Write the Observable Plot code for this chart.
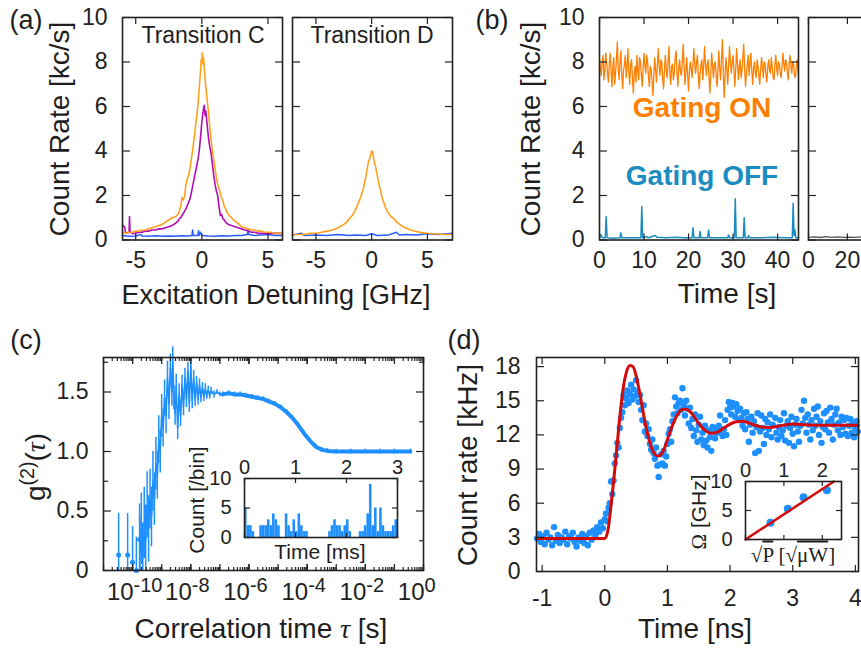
<!DOCTYPE html>
<html><head><meta charset="utf-8">
<script src="https://cdn.jsdelivr.net/npm/d3@7"></script>
<script src="https://cdn.jsdelivr.net/npm/@observablehq/plot@0.6"></script>
<style>
html,body{margin:0;padding:0;background:#fff;overflow:hidden;}
#fig{position:relative;width:861px;height:651px;overflow:hidden;font-family:"Liberation Sans",Arial,sans-serif;color:#1e1e1e;}
#fig svg{position:absolute;overflow:visible;}
.lbl{position:absolute;white-space:nowrap;line-height:1;transform:translate(-50%,-50%);}
.rot{transform:translate(-50%,-50%) rotate(-90deg);}
.ser{font-family:"Liberation Serif","DejaVu Serif",serif;}
</style></head><body><div id="fig"></div>
<script>
// ---------------- DATA ----------------
// (a) Transition C : [detuning GHz, count rate kc/s]
const aOrangeC = [[-6,0.35],[-5.75,0.3],[-5.5,0.35],[-5.25,0.35],[-5,0.4],[-4.75,0.4],[-4.5,0.45],[-4.25,0.45],[-4,0.5],[-3.75,0.55],[-3.5,0.6],[-3.25,0.65],[-3,0.7],[-2.75,0.8],[-2.5,0.9],[-2.25,1.0],[-2,1.05],[-1.9,1.1],[-1.8,1.15],[-1.7,1.3],[-1.6,1.5],[-1.5,1.9],[-1.4,1.8],[-1.3,2.0],[-1.2,2.5],[-1.1,2.75],[-1.0,2.9],[-0.9,3.2],[-0.8,3.6],[-0.7,4.0],[-0.6,4.5],[-0.5,5.0],[-0.4,5.5],[-0.3,6.0],[-0.2,6.8],[-0.1,7.6],[-0.05,8.1],[0,8.0],[0.03,8.4],[0.08,7.9],[0.13,8.2],[0.2,7.6],[0.3,6.9],[0.4,6.3],[0.5,5.8],[0.6,5.1],[0.7,4.5],[0.8,4.0],[0.9,3.6],[1.0,3.2],[1.1,2.8],[1.2,2.5],[1.3,2.3],[1.4,2.1],[1.5,1.9],[1.6,1.75],[1.7,1.5],[1.8,1.4],[1.9,1.25],[2,1.15],[2.25,1.0],[2.5,0.85],[2.75,0.75],[3,0.6],[3.25,0.55],[3.5,0.5],[3.75,0.45],[4,0.45],[4.25,0.4],[4.5,0.4],[4.75,0.35],[5,0.35],[5.25,0.35],[5.5,0.3],[5.75,0.3],[6.1,0.3]];
const aPurpleC = [[-6,0.65],[-5.85,0.6],[-5.75,0.3],[-5.5,0.35],[-5.47,1.05],[-5.43,0.35],[-5.25,0.3],[-5,0.3],[-4.75,0.35],[-4.5,0.35],[-4.25,0.4],[-4,0.4],[-3.75,0.45],[-3.5,0.45],[-3.25,0.5],[-3,0.5],[-2.75,0.55],[-2.5,0.6],[-2.25,0.65],[-2,0.75],[-1.9,0.8],[-1.8,0.85],[-1.7,0.95],[-1.6,1.0],[-1.5,1.1],[-1.4,1.2],[-1.3,1.3],[-1.2,1.4],[-1.1,1.55],[-1.0,1.7],[-0.9,1.85],[-0.8,2.1],[-0.7,2.4],[-0.6,2.7],[-0.5,3.0],[-0.4,3.3],[-0.3,3.6],[-0.2,4.0],[-0.1,4.6],[0,5.3],[0.1,5.8],[0.18,6.05],[0.25,5.6],[0.3,5.8],[0.4,5.2],[0.5,4.6],[0.6,4.2],[0.7,3.9],[0.8,3.4],[0.9,2.9],[1.0,2.5],[1.1,2.2],[1.2,2.0],[1.3,1.5],[1.4,1.1],[1.5,1.15],[1.6,0.95],[1.7,0.9],[1.8,0.8],[1.9,0.75],[2,0.7],[2.25,0.65],[2.5,0.6],[2.75,0.55],[3,0.5],[3.25,0.45],[3.5,0.4],[3.75,0.35],[4,0.35],[4.25,0.3],[4.5,0.3],[5,0.3],[5.5,0.3],[6.1,0.3]];
const aBlueC = [[-6,0.2],[-5.5,0.17],[-5,0.18],[-4.6,0.25],[-4.5,0.18],[-4,0.17],[-3.5,0.19],[-3,0.17],[-2.5,0.18],[-2,0.17],[-1.5,0.19],[-1,0.18],[-0.75,0.2],[-0.7,0.45],[-0.65,0.2],[-0.3,0.2],[-0.25,0.42],[-0.2,0.2],[-0.1,0.35],[0,0.2],[0.5,0.18],[1,0.17],[1.5,0.19],[2,0.18],[2.5,0.2],[3,0.2],[3.45,0.25],[3.5,0.5],[3.55,0.25],[4,0.2],[4.5,0.22],[5,0.25],[5.5,0.2],[6.1,0.2]];
// (a) Transition D
const aOrangeD = [[-7.1,0.25],[-6.5,0.25],[-6,0.25],[-5.5,0.3],[-5,0.3],[-4.5,0.35],[-4,0.4],[-3.5,0.45],[-3,0.55],[-2.5,0.7],[-2.25,0.8],[-2,0.95],[-1.75,1.1],[-1.5,1.3],[-1.25,1.6],[-1,1.9],[-0.75,2.3],[-0.5,2.9],[-0.3,3.5],[-0.15,3.7],[0,4.0],[0.1,3.95],[0.2,3.6],[0.35,3.3],[0.5,2.9],[0.75,2.3],[1,1.8],[1.25,1.45],[1.5,1.2],[1.75,1.05],[2,0.95],[2.25,0.8],[2.5,0.7],[3,0.55],[3.5,0.45],[4,0.38],[4.5,0.33],[5,0.3],[5.5,0.28],[6,0.27],[6.5,0.25],[7.25,0.25]];
const aBlueD = [[-7.1,0.22],[-6.3,0.3],[-6,0.2],[-5,0.22],[-4,0.2],[-3,0.25],[-2,0.2],[-1.5,0.22],[-0.5,0.2],[0,0.28],[0.5,0.2],[1.5,0.22],[2.2,0.35],[2.5,0.22],[3,0.25],[4,0.22],[5,0.28],[6,0.25],[7.25,0.3]];

// (b) [time s, count rate kc/s]
const bGatingOn = [[0,8.1],[0.2,7.7],[0.4,7.4],[0.6,8.0],[0.8,8.3],[1.0,7.2],[1.2,7.6],[1.4,8.4],[1.6,8.0],[1.8,7.5],[2.0,7.1],[2.2,7.9],[2.4,8.4],[2.6,7.6],[2.8,6.9],[3.0,7.8],[3.2,8.2],[3.4,7.0],[3.6,7.5],[3.8,8.1],[4.0,8.9],[4.2,7.7],[4.4,7.2],[4.6,8.0],[4.8,8.5],[5.0,7.4],[5.2,6.8],[5.4,7.6],[5.6,7.9],[5.8,8.3],[6.0,7.3],[6.2,7.8],[6.4,8.6],[6.6,7.5],[6.8,7.0],[7.0,7.9],[7.2,8.1],[7.4,7.3],[7.6,6.6],[7.8,7.5],[8.0,7.8],[8.2,7.1],[8.4,8.3],[8.6,7.6],[8.8,7.2],[9.0,8.2],[9.2,8.0],[9.4,7.4],[9.6,6.9],[9.8,7.7],[10.0,8.4],[10.2,7.8],[10.4,7.5],[10.6,8.3],[10.8,8.0],[11.0,7.3],[11.2,6.9],[11.4,7.8],[11.6,7.7],[11.8,7.1],[12.0,6.5],[12.2,7.4],[12.4,8.2],[12.6,7.6],[12.8,7.1],[13.0,7.9],[13.2,8.6],[13.4,7.8],[13.6,7.4],[13.8,8.1],[14.0,8.0],[14.2,7.2],[14.4,6.8],[14.6,7.7],[14.8,8.3],[15.0,7.6],[15.2,7.3],[15.4,8.0],[15.6,8.7],[15.8,7.5],[16.0,7.0],[16.2,7.8],[16.4,7.9],[16.6,7.2],[16.8,7.5],[17.0,8.2],[17.2,8.5],[17.4,7.6],[17.6,6.9],[17.8,7.7],[18.0,8.1],[18.2,7.5],[18.4,7.4],[18.6,8.0],[18.8,8.8],[19.0,7.8],[19.2,7.0],[19.4,7.6],[19.6,8.2],[19.8,7.4],[20.0,6.7],[20.2,7.6],[20.4,8.0],[20.6,7.7],[20.8,7.3],[21.0,7.9],[21.2,8.6],[21.4,7.9],[21.6,7.5],[21.8,8.0],[22.0,8.3],[22.2,7.4],[22.4,6.8],[22.6,7.5],[22.8,7.9],[23.0,8.1],[23.2,7.2],[23.4,7.8],[23.6,8.7],[23.8,7.9],[24.0,7.4],[24.2,7.9],[24.4,8.1],[24.6,7.3],[24.8,6.6],[25.0,7.5],[25.2,8.4],[25.4,7.8],[25.6,7.3],[25.8,7.9],[26.0,8.0],[26.2,7.4],[26.4,6.9],[26.6,7.6],[26.8,8.5],[27.0,7.7],[27.2,7.2],[27.4,8.1],[27.6,9.0],[27.8,7.6],[28.0,6.4],[28.2,7.3],[28.4,8.2],[28.6,7.7],[28.8,7.0],[29.0,7.8],[29.2,8.7],[29.4,8.0],[29.6,7.5],[29.8,8.0],[30.0,8.3],[30.2,7.6],[30.4,6.9],[30.6,7.7],[30.8,8.6],[31.0,7.9],[31.2,7.2],[31.4,7.8],[31.6,8.1],[31.8,7.3],[32.0,7.6],[32.2,8.2],[32.4,8.8],[32.6,7.7],[32.8,6.9],[33.0,7.5],[33.2,7.9],[33.4,8.3],[33.6,7.4],[33.8,7.9],[34.0,8.4],[34.2,7.6],[34.4,7.0],[34.6,7.7],[34.8,8.0],[35.0,7.5],[35.2,7.3],[35.4,8.1],[35.6,7.8],[35.8,7.4],[36.0,7.0],[36.2,7.7],[36.4,8.2],[36.6,7.8],[36.8,7.3],[37.0,8.0],[37.2,7.9],[37.4,7.4],[37.6,7.1],[37.8,7.8],[38.0,8.1],[38.2,7.6],[38.4,7.5],[38.6,8.2],[38.8,7.8],[39.0,7.3],[39.2,7.2],[39.4,7.9],[39.6,8.3],[39.8,7.7],[40.0,7.4],[40.2,8.0],[40.4,7.9],[40.6,7.5],[40.8,7.3],[41.0,7.8],[41.2,8.4],[41.4,7.9],[41.6,7.6],[41.8,8.1],[42.0,8.0],[42.2,7.5],[42.4,7.2],[42.6,7.9],[42.8,8.3],[43.0,7.8],[43.2,7.5],[43.4,8.0],[43.6,7.9],[43.8,7.4],[44.0,7.3],[44.2,7.8],[44.4,8.1],[44.6,7.6],[44.7,7.4]];
const bGatingOff = [[0,0.1],[0.3,0.25],[0.6,0.1],[1.3,0.1],[1.5,1.05],[1.7,0.1],[3,0.08],[4.6,0.1],[4.8,0.32],[5.0,0.1],[7,0.1],[9.3,0.1],[9.5,1.5],[9.7,0.1],[10.5,0.15],[11,0.1],[12.5,0.2],[13,0.12],[15,0.1],[17,0.12],[19,0.1],[20.8,0.1],[21,0.55],[21.2,0.1],[22.4,0.1],[22.6,0.38],[22.8,0.1],[24.3,0.1],[24.5,0.45],[24.7,0.1],[27,0.1],[28.8,0.1],[29,0.22],[29.2,0.1],[30.3,0.1],[30.5,1.85],[30.7,0.1],[32.3,0.1],[32.5,1.0],[32.7,0.1],[33.3,0.1],[33.5,0.2],[33.7,0.1],[36,0.1],[39,0.12],[42,0.1],[43.3,0.1],[43.5,1.65],[43.7,0.2],[43.9,0.45],[44.1,0.1],[44.7,0.1]];
const bDark = [[0,0.12],[3,0.14],[6,0.11],[9,0.15],[12,0.12],[15,0.14],[18,0.12],[21,0.13],[24,0.12],[27,0.14],[30,0.12],[36,0.12]];

// (c) g2: log10(tau), g2, error
const cSparseLogTau = [-10.48,-10.17,-10.0,-9.87,-9.76];
const cSparseG2 = [0.13,0.13,0.07,0.0,0.26];
const cSparseErr = [0.35,0.35,0.3,0.28,0.3];
const cLogTau = [-9.75,-9.7,-9.65,-9.6,-9.55,-9.5,-9.45,-9.4,-9.35,-9.3,-9.25,-9.2,-9.15,-9.1,-9.05,-9.0,-8.95,-8.9,-8.85,-8.8,-8.75,-8.7,-8.65,-8.62,-8.58,-8.54,-8.5,-8.45,-8.4,-8.35,-8.3,-8.25,-8.2,-8.15,-8.1,-8.05,-8.0,-7.95,-7.9,-7.85,-7.8,-7.75,-7.7,-7.65,-7.6,-7.55,-7.5,-7.45,-7.4,-7.35,-7.3,-7.2,-7.1,-7.0,-6.9,-6.7,-6.5,-6.3,-6.1,-5.9,-5.7,-5.5,-5.3,-5.1,-4.9,-4.7,-4.5,-4.3,-4.1,-3.9,-3.7,-3.5,-3.3,-3.0,-2.5,-2.0,-1.5,-1.0,-0.45];
const cG2 = [0.15,0.35,0.1,0.4,0.25,0.55,0.35,0.6,0.45,0.75,0.6,0.9,0.8,1.1,1.0,1.3,1.2,1.45,1.3,1.62,1.4,1.7,1.5,1.78,1.45,1.32,1.55,1.2,1.48,1.3,1.56,1.38,1.62,1.44,1.68,1.4,1.72,1.42,1.62,1.43,1.58,1.44,1.56,1.45,1.54,1.46,1.53,1.47,1.52,1.47,1.51,1.48,1.5,1.48,1.48,1.49,1.48,1.48,1.47,1.46,1.45,1.44,1.42,1.4,1.37,1.33,1.28,1.22,1.15,1.09,1.04,1.015,1.005,1.0,1.0,1.0,1.0,1.0,1.0];
const cErr = [0.3,0.3,0.3,0.3,0.3,0.28,0.28,0.25,0.25,0.25,0.22,0.22,0.2,0.2,0.18,0.18,0.16,0.15,0.15,0.14,0.13,0.12,0.12,0.1,0.1,0.1,0.1,0.1,0.09,0.09,0.08,0.08,0.08,0.07,0.07,0.07,0.06,0.06,0.06,0.05,0.05,0.05,0.05,0.04,0.04,0.04,0.04,0.03,0.03,0.03,0.03,0.03,0.02,0.02,0.02,0.02,0.02,0.02,0.02,0.02,0.02,0.02,0.02,0.02,0.02,0.02,0.02,0.02,0.02,0.02,0.02,0.02,0.02,0.02,0.02,0.02,0.02,0.02,0.02];
// (c) inset histogram: bin start [ms], counts per bin
const cBinStart = [0,0.05,0.1,0.15,0.2,0.25,0.3,0.35,0.4,0.45,0.5,0.55,0.6,0.65,0.7,0.75,0.8,0.85,0.9,0.95,1.0,1.05,1.1,1.15,1.2,1.25,1.3,1.35,1.4,1.45,1.5,1.55,1.6,1.65,1.7,1.75,1.8,1.85,1.9,1.95,2.0,2.05,2.1,2.15,2.2,2.25,2.3,2.35,2.4,2.45,2.5,2.55,2.6,2.65,2.7,2.75,2.8,2.85,2.9,2.95];
const cBinCount = [5,2,2,1,0,0,2,2,2,3,2,4,3,2,0,0,4,2,1,3,1,4,2,1,1,0,0,0,0,0,0,0,0,1,2,3,2,2,1,2,3,1,0,0,0,1,1,2,4,9,2,5,1,5,2,1,1,1,2,3];

// (d) [time ns, count rate kHz]
const dMeasured = [[-1.08,2.9],[-1.05,3.3],[-1.02,2.6],[-0.99,3.1],[-0.96,2.4],[-0.93,3.4],[-0.9,2.8],[-0.87,3.0],[-0.84,2.3],[-0.81,3.9],[-0.78,2.7],[-0.75,3.2],[-0.72,2.5],[-0.69,3.0],[-0.66,2.8],[-0.63,3.5],[-0.6,2.4],[-0.57,3.1],[-0.54,2.9],[-0.51,3.4],[-0.48,2.6],[-0.45,2.2],[-0.42,3.0],[-0.39,2.7],[-0.36,3.3],[-0.33,2.5],[-0.3,3.1],[-0.27,2.3],[-0.24,3.4],[-0.21,2.8],[-0.18,3.6],[-0.15,3.2],[-0.12,3.9],[-0.09,3.5],[-0.06,4.3],[-0.03,3.8],[0.0,4.6],[0.02,5.1],[0.04,4.4],[0.06,5.6],[0.08,6.0],[0.1,7.9],[0.12,6.8],[0.14,8.0],[0.16,9.5],[0.18,10.2],[0.2,11.3],[0.22,10.9],[0.24,12.6],[0.26,13.5],[0.28,14.0],[0.3,15.5],[0.32,14.6],[0.34,15.2],[0.36,15.9],[0.38,14.8],[0.4,15.6],[0.42,16.4],[0.44,15.1],[0.46,16.0],[0.48,15.4],[0.5,16.8],[0.52,15.8],[0.54,14.9],[0.56,15.5],[0.58,14.2],[0.6,13.3],[0.62,14.6],[0.64,12.3],[0.66,13.0],[0.68,11.9],[0.7,12.5],[0.72,11.2],[0.74,10.7],[0.76,11.6],[0.78,10.4],[0.8,9.9],[0.82,10.9],[0.84,9.3],[0.86,8.3],[0.88,9.4],[0.9,10.3],[0.92,9.5],[0.94,10.6],[0.96,9.3],[0.98,10.1],[1.0,11.2],[1.02,12.1],[1.04,12.5],[1.06,11.4],[1.08,13.2],[1.1,13.8],[1.12,15.3],[1.14,14.5],[1.16,13.9],[1.18,14.8],[1.2,15.0],[1.22,14.2],[1.24,16.1],[1.26,14.6],[1.28,13.7],[1.3,15.0],[1.32,14.3],[1.34,13.0],[1.36,14.4],[1.38,12.6],[1.4,13.4],[1.42,11.9],[1.44,13.8],[1.46,12.4],[1.48,11.4],[1.5,12.9],[1.52,13.6],[1.54,11.6],[1.56,12.2],[1.58,11.1],[1.6,12.8],[1.62,11.5],[1.64,10.9],[1.66,12.4],[1.68,11.8],[1.7,10.6],[1.72,12.7],[1.74,12.3],[1.76,11.7],[1.78,12.6],[1.8,12.2],[1.82,12.8],[1.84,13.7],[1.86,12.4],[1.88,11.9],[1.9,12.5],[1.92,13.3],[1.94,12.0],[1.96,14.2],[1.98,14.9],[2.0,14.4],[2.02,13.8],[2.04,14.8],[2.06,14.5],[2.08,13.6],[2.1,14.7],[2.12,14.1],[2.14,13.3],[2.16,14.3],[2.18,13.5],[2.2,12.8],[2.22,13.9],[2.24,12.5],[2.26,14.0],[2.28,13.4],[2.3,11.4],[2.32,12.9],[2.34,13.6],[2.36,12.2],[2.38,13.2],[2.4,10.4],[2.42,12.7],[2.44,13.9],[2.46,10.6],[2.48,12.3],[2.5,13.7],[2.52,12.6],[2.54,11.2],[2.56,13.4],[2.58,12.0],[2.6,13.1],[2.62,12.5],[2.64,13.8],[2.66,11.8],[2.68,12.9],[2.72,13.5],[2.74,12.2],[2.76,11.6],[2.78,12.7],[2.8,13.3],[2.82,11.9],[2.84,12.4],[2.86,13.9],[2.88,11.5],[2.9,12.8],[2.92,13.2],[2.94,11.3],[2.96,12.6],[2.98,13.6],[3.0,12.1],[3.02,11.0],[3.04,12.9],[3.06,13.4],[3.08,12.3],[3.1,11.4],[3.12,12.8],[3.14,14.2],[3.16,13.0],[3.18,15.0],[3.2,13.5],[3.22,12.2],[3.24,13.8],[3.26,12.9],[3.28,11.6],[3.3,13.3],[3.32,12.4],[3.34,14.3],[3.36,12.8],[3.38,13.6],[3.4,14.5],[3.42,12.0],[3.44,13.2],[3.46,11.3],[3.48,12.7],[3.5,13.9],[3.52,12.5],[3.54,14.1],[3.56,13.1],[3.58,12.2],[3.6,14.4],[3.62,13.4],[3.64,11.6],[3.66,12.9],[3.68,13.8],[3.7,14.3],[3.72,12.4],[3.74,13.1],[3.76,12.0],[3.78,13.6],[3.8,12.7],[3.82,13.3],[3.84,12.1],[3.86,13.5],[3.88,11.9],[3.9,12.8],[3.92,13.4],[3.94,12.2],[3.96,13.0],[3.98,11.8],[4.0,12.6],[4.02,13.2],[4.04,12.3]];
const dFit = [[-1.09,2.9],[-0.5,2.9],[0.0,2.9],[0.05,3.6],[0.1,5.8],[0.15,8.4],[0.2,11.3],[0.25,14.1],[0.3,16.3],[0.35,17.6],[0.4,18.1],[0.45,18.0],[0.5,17.2],[0.55,15.9],[0.6,14.4],[0.65,12.9],[0.7,11.7],[0.75,10.8],[0.8,10.3],[0.85,10.15],[0.9,10.3],[0.95,10.8],[1.0,11.6],[1.05,12.4],[1.1,13.1],[1.15,13.7],[1.2,14.1],[1.25,14.25],[1.3,14.25],[1.35,14.1],[1.4,13.8],[1.5,13.0],[1.6,12.4],[1.7,12.15],[1.8,12.25],[1.9,12.6],[2.0,12.95],[2.1,13.15],[2.2,13.2],[2.3,13.05],[2.4,12.85],[2.5,12.7],[2.6,12.65],[2.7,12.7],[2.8,12.8],[2.9,12.9],[3.0,12.95],[3.2,12.9],[3.4,12.85],[3.7,12.85],[4.05,12.85]];
// (d) inset: sqrt(P) [sqrt(uW)], Omega [GHz]
const dInsetSqrtP = [0.65,1.1,1.51,2.12];
const dInsetOmega = [2.9,5.3,7.3,8.5];
const dInsetFit = [[0,0],[2.3,10]];

// tick values and labels
const aYTicks = [0,2,4,6,8,10], aYLabels = ["0","2","4","6","8","10"];
const aXTicks = [-5,0,5], aXLabels = ["-5","0","5"];
const bXTicks = [0,10,20,30,40], bXLabels = ["0","10","20","30","40"];
const b2XTicks = [0,20], b2XLabels = ["0","20"];
const cXTicks = [1e-10,1e-8,1e-6,1e-4,1e-2,1], cXBase = ["10","10","10","10","10","10"], cXExp = ["-10","-8","-6","-4","-2","0"];
const cDecades = [1e-11,1e-10,1e-9,1e-8,1e-7,1e-6,1e-5,1e-4,1e-3,1e-2,1e-1,1];
const cYTicks = [0,0.5,1,1.5], cYLabels = ["0","0.5","1.0","1.5"];
const cYMinor = [0.25,0.75,1.25,1.75];
const ciXTicks = [0,1,2,3], ciXLabels = ["0","1","2","3"];
const ciYTicks = [0,5,10], ciYLabels = ["0","5","10"];
const dXTicks = [-1,0,1,2,3,4], dXLabels = ["-1","0","1","2","3","4"];
const dYTicks = [0,3,6,9,12,15,18], dYLabels = ["0","3","6","9","12","15","18"];
const diXTicks = [0,1,2], diXLabels = ["0","1","2"];
const diYTicks = [0,5,10], diYLabels = ["0","5","10"];

// ---------------- DRAWING ----------------
const fig = document.getElementById("fig");
const INK = "#222";
const fmt = (ticks, labels) => d => labels[ticks.indexOf(d)];

function panel(c) {
  const {x0, y0, x1, y1, ml = 70, mr = 20, mt = 30, mb = 45, fs = 23,
    xt, xl, yt, yl, xMinor, yMinor, xTop = false, showY = true, showX = true,
    tick = 7, minor = 4, xPad = 12, yPad = 15} = c;
  const w = x1 - x0, h = y1 - y0;
  const m = [...c.marks];
  const tk = {stroke: INK, strokeWidth: 1.2, fill: "none"};
  const addX = (t, s) => {
    m.push(Plot.axisX({ticks: t, anchor: "top", tickSize: s, dy: h, ...tk}));
    m.push(Plot.axisX({ticks: t, anchor: "bottom", tickSize: s, dy: -h, ...tk}));
  };
  const addY = (t, s) => {
    m.push(Plot.axisY({ticks: t, anchor: "right", tickSize: s, dx: -w, ...tk}));
    m.push(Plot.axisY({ticks: t, anchor: "left", tickSize: s, dx: w, ...tk}));
  };
  addX(xt, tick); addY(yt, tick);
  if (xMinor) addX(xMinor, minor);
  if (yMinor) addY(yMinor, minor);
  if (showX) m.push(Plot.axisX({ticks: xt, anchor: xTop ? "top" : "bottom", tickSize: 0, tickPadding: xPad, tickFormat: fmt(xt, xl), label: null, fill: INK, stroke: "none"}));
  if (showY) m.push(Plot.axisY({ticks: yt, anchor: "left", tickSize: 0, tickPadding: yPad, tickFormat: fmt(yt, yl), label: null, fill: INK, stroke: "none"}));
  m.push(Plot.frame({stroke: INK, strokeWidth: 1.6}));
  const svg = Plot.plot({
    width: w + ml + mr, height: h + mt + mb,
    marginLeft: ml, marginRight: mr, marginTop: mt, marginBottom: mb,
    x: {...c.x, axis: null}, y: {...c.y, axis: null},
    style: {fontSize: fs + "px", fontFamily: "'Liberation Sans', Arial, sans-serif", background: "transparent", overflow: "visible", color: INK},
    marks: m
  });
  svg.style.left = (x0 - ml) + "px";
  svg.style.top = (y0 - mt) + "px";
  fig.appendChild(svg);
}

function label(html, cx, cy, o = {}) {
  const d = document.createElement("div");
  d.className = "lbl" + (o.rot ? " rot" : "") + (o.serif ? " ser" : "");
  d.innerHTML = html;
  d.style.left = cx + "px"; d.style.top = cy + "px";
  d.style.fontSize = (o.size || 28) + "px";
  if (o.weight) d.style.fontWeight = o.weight;
  if (o.color) d.style.color = o.color;
  fig.appendChild(d);
}

const X = d => d[0], Y = d => d[1];
const ORA = "#ffa01e", PUR = "#b20db2", BLU = "#2a5cff";
const ORB = "#ff7f00", TEAL = "#1a8cbf";
const DOD = "#1e8fff", RED = "#d40a0a";

// (a) left
panel({x0: 122, y0: 17, x1: 282, y1: 239.5, x: {domain: [-6, 6.1]}, y: {domain: [0, 10]},
  xt: aXTicks, xl: aXLabels, yt: aYTicks, yl: aYLabels,
  marks: [
    Plot.line(aBlueC, {x: X, y: Y, stroke: BLU, strokeWidth: 1.5}),
    Plot.line(aPurpleC, {x: X, y: Y, stroke: PUR, strokeWidth: 1.6}),
    Plot.line(aOrangeC, {x: X, y: Y, stroke: ORA, strokeWidth: 1.6})
  ]});
// (a) right
panel({x0: 292, y0: 17, x1: 452, y1: 239.5, x: {domain: [-7.1, 7.25]}, y: {domain: [0, 10]},
  xt: aXTicks, xl: aXLabels, yt: aYTicks, yl: aYLabels, showY: false,
  marks: [
    Plot.line(aBlueD, {x: X, y: Y, stroke: BLU, strokeWidth: 1.5}),
    Plot.line(aOrangeD, {x: X, y: Y, stroke: ORA, strokeWidth: 1.6})
  ]});
// (b) left
panel({x0: 599, y0: 17, x1: 798, y1: 239.5, x: {domain: [0, 44.7]}, y: {domain: [0, 10]},
  xt: bXTicks, xl: bXLabels, yt: aYTicks, yl: aYLabels,
  marks: [
    Plot.line(bGatingOn, {x: X, y: Y, stroke: ORB, strokeWidth: 1.3}),
    Plot.line(bGatingOff, {x: X, y: Y, stroke: TEAL, strokeWidth: 1.5})
  ]});
// (b) right
panel({x0: 808, y0: 17, x1: 878, y1: 239.5, x: {domain: [0, 36]}, y: {domain: [0, 10]},
  xt: b2XTicks, xl: b2XLabels, yt: aYTicks, yl: aYLabels, showY: false,
  marks: [Plot.line(bDark, {x: X, y: Y, stroke: "#555", strokeWidth: 1.4})]});

// (c) main
const cSparse = cSparseLogTau.map((e, i) => ({tau: 10 ** e, g: cSparseG2[i], err: cSparseErr[i]}));
const cDense = cLogTau.map((e, i) => ({tau: 10 ** e, g: cG2[i], err: cErr[i]}));
const cTickLab = cXTicks.map((t, i) => ({t, base: cXBase[i], exp: cXExp[i]}));
panel({x0: 103, y0: 357, x1: 423, y1: 570, x: {type: "log", domain: [1e-11, 1]}, y: {domain: [0, 1.79]},
  xt: cXTicks, xl: cXExp, yt: cYTicks, yl: cYLabels, xMinor: 40, yMinor: cYMinor, showX: false,
  marks: [
    Plot.axisX({ticks: cDecades, anchor: "top", tickSize: 7, dy: 213, stroke: INK, strokeWidth: 1.2, fill: "none"}),
    Plot.axisX({ticks: cDecades, anchor: "bottom", tickSize: 7, dy: -213, stroke: INK, strokeWidth: 1.2, fill: "none"}),
    Plot.text(cTickLab, {x: "t", text: "base", frameAnchor: "bottom", dy: 29, dx: 1, textAnchor: "end", fill: INK, fontSize: 24}),
    Plot.text(cTickLab, {x: "t", text: "exp", frameAnchor: "bottom", dy: 21, dx: 1, textAnchor: "start", fill: INK, fontSize: 20}),
    Plot.ruleX(cSparse, {x: "tau", y1: d => Math.max(0, d.g - d.err), y2: d => d.g + d.err, stroke: DOD, strokeWidth: 1.5}),
    Plot.dot(cSparse, {x: "tau", y: "g", r: 2.5, fill: DOD}),
    Plot.ruleX(cDense, {x: "tau", y1: d => Math.max(0, d.g - d.err), y2: d => d.g + d.err, stroke: DOD, strokeWidth: 1.5}),
    Plot.line(cDense, {x: "tau", y: "g", stroke: DOD, strokeWidth: 1.6}),
    Plot.line(cDense.filter(d => d.tau > 1e-7), {x: "tau", y: "g", stroke: DOD, strokeWidth: 4})
  ]});
// (c) inset
const cHist = cBinStart.map((s, i) => ({t0: s, t1: cBinStart[i + 1] ?? s + (s - cBinStart[i - 1]), n: cBinCount[i]}));
panel({x0: 244, y0: 478, x1: 397, y1: 537, x: {domain: [0, 3.0]}, y: {domain: [0, 10]}, fs: 20,
  xt: ciXTicks, xl: ciXLabels, yt: ciYTicks, yl: ciYLabels, xTop: true, xPad: 5, yPad: 13, tick: 5,
  marks: [Plot.rectY(cHist, {x1: "t0", x2: "t1", y: "n", fill: DOD})]});

// (d) main
panel({x0: 536, y0: 357, x1: 858, y1: 571, x: {domain: [-1.09, 4.05]}, y: {domain: [0, 18.8]},
  xt: dXTicks, xl: dXLabels, yt: dYTicks, yl: dYLabels, xPad: 18, yPad: 16,
  marks: [
    Plot.dot(dMeasured, {x: X, y: Y, r: 3.2, fill: DOD}),
    Plot.line(dFit, {x: X, y: Y, stroke: RED, strokeWidth: 3, curve: "monotone-x"})
  ]});
// (d) inset
const dIns = dInsetSqrtP.map((p, i) => ({p, o: dInsetOmega[i]}));
panel({x0: 745, y0: 481, x1: 841, y1: 539, x: {domain: [0, 2.5]}, y: {domain: [0, 10]}, fs: 20,
  xt: diXTicks, xl: diXLabels, yt: diYTicks, yl: diYLabels, xTop: true, xPad: 5, yPad: 13, tick: 5,
  marks: [
    Plot.dot(dIns, {x: "p", y: "o", r: 4, fill: DOD}),
    Plot.line(dInsetFit, {x: X, y: Y, stroke: RED, strokeWidth: 2.5})
  ]});

// ---------------- TEXT ----------------
label("(a)", 26, 20, {size: 27});
label("(b)", 492, 20, {size: 27});
label("(c)", 26, 340, {size: 27});
label("(d)", 464, 340, {size: 27});
label("Count Rate [kc/s]", 60, 129, {rot: true});
label("Count Rate [kc/s]", 531, 129, {rot: true});
label("Excitation Detuning [GHz]", 276, 295, {size: 27});
label("Time [s]", 727, 294);
label("Transition C", 203, 35, {size: 23});
label("Transition D", 372, 35, {size: 23});
label("Gating ON", 702, 108, {size: 28, weight: "bold", color: ORB});
label("Gating OFF", 702, 176, {size: 28, weight: "bold", color: TEAL});
label("g<sup style='font-size:0.7em;vertical-align:0.55em'>(2)</sup>(<i class='ser'>τ</i>)", 34, 467, {rot: true});
label("Correlation time <i class='ser'>τ</i> [s]", 261, 629);
label("Count [/bin]", 196, 500, {rot: true, size: 21});
label("Time [ms]", 320, 551, {size: 21});
label("Count rate [kHz]", 468, 465, {rot: true});
label("Time [ns]", 695, 629);
label("<span class='ser'>Ω</span> [GHz]", 699, 512, {rot: true, size: 21});
label("√<span style='text-decoration:overline'>P</span> [√<span style='text-decoration:overline'>μW</span>]", 793, 555, {serif: true, size: 21});
</script></body></html>
